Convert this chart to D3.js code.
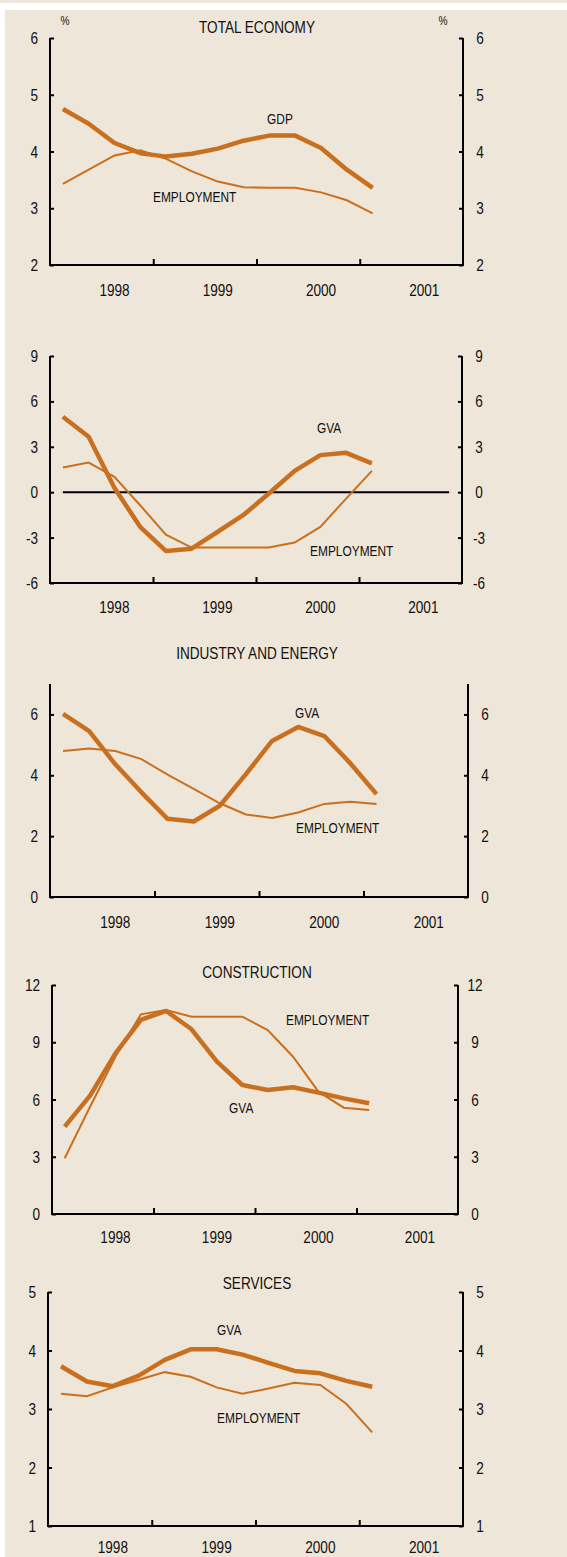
<!DOCTYPE html>
<html>
<head>
<meta charset="utf-8">
<script src="https://cdn.jsdelivr.net/npm/d3@7"></script>
<style>
  body { margin: 0; background: #fff; }
  text { font-family: "Liberation Sans", Arial, sans-serif; fill: #111; }
</style>
</head>
<body>
<div id="chart"></div>
<script>
// quarterly observations, 1998 Q1 .. 2001 Q1
const quarters = ["1998Q1","1998Q2","1998Q3","1998Q4","1999Q1","1999Q2","1999Q3","1999Q4",
  "2000Q1","2000Q2","2000Q3","2000Q4","2001Q1"];
const years = ["1998", "1999", "2000", "2001"];

const totalGdp = [4.75, 4.49, 4.15, 3.97, 3.91, 3.96, 4.05, 4.19, 4.28, 4.28, 4.06, 3.68, 3.36];
const totalEmp = [3.43, 3.68, 3.93, 4.02, 3.87, 3.65, 3.47, 3.37, 3.36, 3.36, 3.28, 3.14, 2.91];

const agriGva = [4.99, 3.66, 0.3, -2.29, -3.88, -3.73, -2.63, -1.52, -0.09, 1.41, 2.45, 2.60, 1.90];
const agriEmp = [1.63, 1.96, 1.01, -0.86, -2.81, -3.66, -3.66, -3.66, -3.66, -3.33, -2.29, -0.42, 1.41];

const indGva = [6.02, 5.45, 4.36, 3.44, 2.57, 2.48, 3.0, 4.04, 5.13, 5.59, 5.29, 4.39, 3.38];
const indEmp = [4.80, 4.88, 4.80, 4.53, 4.02, 3.55, 3.08, 2.71, 2.60, 2.78, 3.06, 3.13, 3.06];

const conGva = [4.58, 6.20, 8.42, 10.17, 10.64, 9.68, 7.98, 6.76, 6.50, 6.64, 6.36, 6.06, 5.80];
const conEmp = [2.92, 5.62, 8.24, 10.46, 10.69, 10.34, 10.34, 10.34, 9.64, 8.24, 6.41, 5.57, 5.45];

const servGva = [3.73, 3.47, 3.39, 3.57, 3.84, 4.02, 4.02, 3.93, 3.79, 3.65, 3.61, 3.48, 3.38];
const servEmp = [3.26, 3.22, 3.37, 3.50, 3.63, 3.55, 3.37, 3.26, 3.35, 3.45, 3.41, 3.09, 2.60];

const W = 567, H = 1557;
const lineColor = "#c8701f";
const bg = "#eee6d8";
const squeeze = 0.85; // the original lettering is narrow

const panels = [
  { title: "TOTAL ECONOMY", pct: true, left: 50, right: 463, top: 38, bottom: 265,
    domain: [2, 6], ticks: [2, 3, 4, 5, 6], titleY: 33, yearY: 296,
    thick: totalGdp, thin: totalEmp,
    labels: [["GDP", 8.41, 4.50], ["EMPLOYMENT", 3.99, 3.13]] },
  { title: "", left: 50, right: 462, top: 356, bottom: 583,
    domain: [-6, 9], ticks: [-6, -3, 0, 3, 6, 9], yearY: 613, zero: true,
    thick: agriGva, thin: agriEmp,
    labels: [["GVA", 10.37, 3.98], ["EMPLOYMENT", 10.10, -4.15]] },
  { title: "INDUSTRY AND ENERGY", left: 50, right: 468, top: 684, bottom: 897,
    domain: [0, 7], ticks: [0, 2, 4, 6], titleY: 659, yearY: 928,
    thick: indGva, thin: indEmp,
    labels: [["GVA", 9.38, 5.92], ["EMPLOYMENT", 9.42, 2.12]] },
  { title: "CONSTRUCTION", left: 52, right: 458, top: 985, bottom: 1214,
    domain: [0, 12], ticks: [0, 3, 6, 9, 12], titleY: 978, yearY: 1243,
    thick: conGva, thin: conEmp,
    labels: [["EMPLOYMENT", 9.22, 9.96], ["GVA", 6.98, 5.35]] },
  { title: "SERVICES", left: 48, right: 463, top: 1292, bottom: 1526,
    domain: [1, 5], ticks: [1, 2, 3, 4, 5], titleY: 1289, yearY: 1553,
    thick: servGva, thin: servEmp,
    labels: [["GVA", 6.52, 4.28], ["EMPLOYMENT", 6.52, 2.78]] }
];

const svg = d3.select("#chart").append("svg")
  .attr("width", W).attr("height", H);

svg.append("rect").attr("x", 0).attr("y", 0).attr("width", W).attr("height", 3).attr("fill", bg);
svg.append("rect").attr("x", 5).attr("y", 10).attr("width", W - 5).attr("height", H - 10).attr("fill", bg);

// text placed with a horizontal squeeze
function label(sel, x, y, size, anchor) {
  return sel.attr("transform", (d, i) => {
      const xx = typeof x === "function" ? x(d, i) : x;
      const yy = typeof y === "function" ? y(d, i) : y;
      return `translate(${xx},${yy}) scale(${squeeze},1)`;
    })
    .attr("font-size", size)
    .attr("text-anchor", anchor || "start");
}

panels.forEach(p => {
  const g = svg.append("g");
  const x = d3.scaleLinear().domain([0, 16]).range([p.left, p.right]);
  const y = d3.scaleLinear().domain(p.domain).range([p.bottom, p.top]);

  // left and right axes (ticks point inward)
  const yl = g.append("g").attr("transform", `translate(${p.left},0)`)
    .call(d3.axisRight(y).tickValues(p.ticks).tickSize(4).tickFormat(""));
  const yr = g.append("g").attr("transform", `translate(${p.right},0)`)
    .call(d3.axisLeft(y).tickValues(p.ticks).tickSize(4).tickFormat(""));
  [yl, yr].forEach(a => {
    a.select(".domain").attr("d", `M0,${p.bottom + 1}V${p.top}`).attr("stroke", "#000").attr("stroke-width", 2);
    a.selectAll(".tick line").attr("stroke", "#000").attr("stroke-width", 2);
  });

  label(g.selectAll(".ylab-l").data(p.ticks).join("text"), p.left - 12, d => y(d) + 6, 16, "end")
    .text(d => d);
  label(g.selectAll(".ylab-r").data(p.ticks).join("text"), p.right + 17, d => y(d) + 6, 16, "middle")
    .text(d => d);

  // bottom axis: year ticks point up
  const xa = g.append("g").attr("transform", `translate(0,${p.bottom})`)
    .call(d3.axisTop(x).tickValues([4, 8, 12]).tickSize(6).tickFormat(""));
  xa.select(".domain").attr("d", `M${p.left - 1},0H${p.right + 1}`).attr("stroke", "#000").attr("stroke-width", 2);
  xa.selectAll(".tick line").attr("stroke", "#000").attr("stroke-width", 2);

  label(g.selectAll(".year").data(years).join("text"), (d, i) => x(i * 4 + 2.5), p.yearY, 16, "middle")
    .text(d => d);

  if (p.title) {
    label(g.append("text"), 257, p.titleY, 16, "middle").text(p.title);
  }
  if (p.pct) {
    label(g.append("text"), 65, 25, 12, "middle").text("%");
    label(g.append("text"), 443, 25, 12, "middle").text("%");
  }
  if (p.zero) {
    g.append("line").attr("x1", x(0.5)).attr("x2", x(15.5))
      .attr("y1", y(0)).attr("y2", y(0)).attr("stroke", "#000").attr("stroke-width", 2);
  }

  const line = d3.line().x((d, i) => x(i + 0.5)).y(d => y(d));
  g.append("path").datum(p.thin).attr("d", line)
    .attr("fill", "none").attr("stroke", lineColor).attr("stroke-width", 2);
  g.append("path").datum(p.thick).attr("d", line)
    .attr("fill", "none").attr("stroke", lineColor).attr("stroke-width", 4.5)
    .attr("stroke-linejoin", "round");

  label(g.selectAll(".slab").data(p.labels).join("text"), d => x(d[1]), d => y(d[2]) + 1, 14)
    .text(d => d[0]);
});
</script>
</body>
</html>
